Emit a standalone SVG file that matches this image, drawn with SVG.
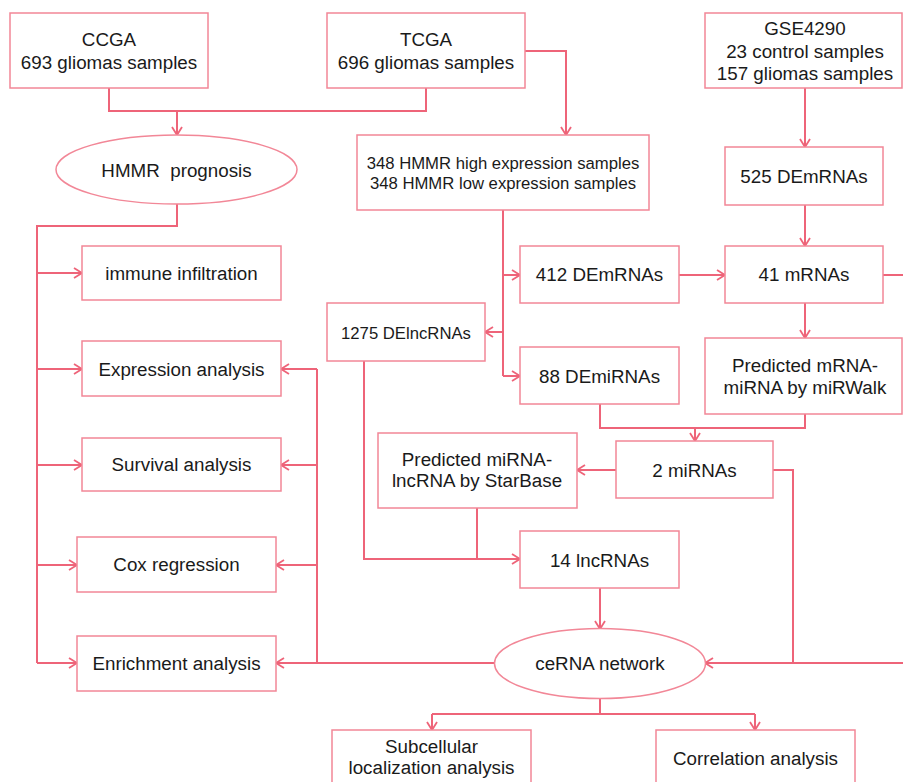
<svg xmlns="http://www.w3.org/2000/svg" width="903" height="782" viewBox="0 0 903 782">
<defs>
<style>
.box{fill:#fff;stroke:#F28797;stroke-width:1.5}
.t{font-family:"Liberation Sans",Arial,sans-serif;font-size:18.8px;fill:#1a1a1a;text-anchor:middle}
.s{font-size:16.7px}
.c{fill:none;stroke:#EE6479;stroke-width:2}
.a{marker-end:url(#arr)}
</style>
<marker id="arr" markerUnits="userSpaceOnUse" markerWidth="12" markerHeight="12" viewBox="0 0 12 12" refX="9" refY="6" orient="auto">
<path d="M1,1 L9,6 L1,11" fill="none" stroke="#EE6479" stroke-width="1.8"/>
</marker>
</defs>
<rect width="903" height="782" fill="#fff"/>
<g id="connectors">
<path class="c" d="M109,88 V111 H426 V88"/>
<path class="c a" d="M177,111 V135"/>
<path class="c a" d="M525,51 H566 V135"/>
<path class="c" d="M177,204 V226 H37 V663"/>
<path class="c a" d="M37,273 H82"/>
<path class="c a" d="M37,369 H82"/>
<path class="c a" d="M37,465 H82"/>
<path class="c a" d="M37,565 H77"/>
<path class="c a" d="M37,663 H77"/>
<path class="c a" d="M805,88 V147"/>
<path class="c a" d="M805,205 V246"/>
<path class="c" d="M883,275 H903"/>
<path class="c a" d="M679,275 H725"/>
<path class="c" d="M503,210 V376"/>
<path class="c a" d="M503,275 H520"/>
<path class="c a" d="M503,332 H485"/>
<path class="c a" d="M503,376 H520"/>
<path class="c a" d="M805,303 V338"/>
<path class="c" d="M600,404 V428 H805 V414"/>
<path class="c a" d="M695,428 V441"/>
<path class="c a" d="M616,470 H577"/>
<path class="c" d="M773,470 H793 V663"/>
<path class="c a" d="M903,663 H705"/>
<path class="c a" d="M364,361 V559 H520"/>
<path class="c" d="M477,508 V559"/>
<path class="c a" d="M600,588 V629"/>
<path class="c a" d="M494,663 H276"/>
<path class="c" d="M317,663 V369"/>
<path class="c a" d="M317,369 H281"/>
<path class="c a" d="M317,465 H281"/>
<path class="c a" d="M317,565 H276"/>
<path class="c" d="M600,698 V714"/>
<path class="c" d="M432,714 H755"/>
<path class="c a" d="M432,714 V730"/>
<path class="c a" d="M755,714 V730"/>
</g>
<g id="ccga"><rect class="box" x="10" y="13" width="198" height="75"/><text class="t" x="109" y="46">CCGA</text><text class="t" x="109" y="69">693 gliomas samples</text></g>
<g id="tcga"><rect class="box" x="327" y="13" width="198" height="75"/><text class="t" x="426" y="46">TCGA</text><text class="t" x="426" y="69">696 gliomas samples</text></g>
<g id="gse"><rect class="box" x="705" y="13" width="197" height="75"/><text class="t" x="805" y="35">GSE4290</text><text class="t" x="805" y="57.5">23 control samples</text><text class="t" x="805" y="80">157 gliomas samples</text></g>
<g id="hmmr"><ellipse class="box" cx="176.5" cy="169.5" rx="120.5" ry="34.5"/><text class="t" x="176.5" y="176.5" xml:space="preserve">HMMR  prognosis</text></g>
<g id="split"><rect class="box" x="357" y="135" width="292" height="75"/><text class="t s" x="503" y="168.5">348 HMMR high expression samples</text><text class="t s" x="503" y="188.5">348 HMMR low expression samples</text></g>
<g id="de525"><rect class="box" x="725" y="147" width="158" height="58"/><text class="t" x="804" y="182.5">525 DEmRNAs</text></g>
<g id="immune"><rect class="box" x="82" y="246" width="199" height="54"/><text class="t" x="181.5" y="280">immune infiltration</text></g>
<g id="expr"><rect class="box" x="82" y="341" width="199" height="55"/><text class="t" x="181.5" y="375.5">Expression analysis</text></g>
<g id="surv"><rect class="box" x="82" y="438" width="199" height="53"/><text class="t" x="181.5" y="470.7">Survival analysis</text></g>
<g id="cox"><rect class="box" x="77" y="537" width="199" height="55"/><text class="t" x="176.5" y="571">Cox regression</text></g>
<g id="enrich"><rect class="box" x="77" y="636" width="199" height="55"/><text class="t" x="176.5" y="670">Enrichment analysis</text></g>
<g id="de412"><rect class="box" x="520" y="246" width="159" height="57"/><text class="t" x="599.5" y="281.3">412 DEmRNAs</text></g>
<g id="m41"><rect class="box" x="725" y="246" width="158" height="57"/><text class="t" x="804" y="281.3">41 mRNAs</text></g>
<g id="lnc1275"><rect class="box" x="327" y="303" width="158" height="58"/><text class="t s" x="406" y="338.5">1275 DElncRNAs</text></g>
<g id="mi88"><rect class="box" x="520" y="347" width="159" height="57"/><text class="t" x="599.5" y="382.7">88 DEmiRNAs</text></g>
<g id="mirwalk"><rect class="box" x="705" y="338" width="197" height="76"/><text class="t" x="805" y="371.7">Predicted mRNA-</text><text class="t" x="805" y="394">miRNA by miRWalk</text></g>
<g id="mi2"><rect class="box" x="616" y="441" width="157" height="57"/><text class="t" x="694.5" y="476.7">2 miRNAs</text></g>
<g id="starbase"><rect class="box" x="378" y="433" width="199" height="75"/><text class="t" x="477" y="465.7">Predicted miRNA-</text><text class="t" x="477" y="487.3">lncRNA by StarBase</text></g>
<g id="lnc14"><rect class="box" x="520" y="531" width="159" height="57"/><text class="t" x="599.5" y="566.7">14 lncRNAs</text></g>
<g id="cerna"><ellipse class="box" cx="600" cy="663.5" rx="105.5" ry="35"/><text class="t" x="600" y="670">ceRNA network</text></g>
<g id="subcell"><rect class="box" x="332" y="730" width="199" height="60"/><text class="t" x="431.5" y="753.3">Subcellular</text><text class="t" x="431.5" y="774.3">localization analysis</text></g>
<g id="corr"><rect class="box" x="656" y="730" width="199" height="60"/><text class="t" x="755.5" y="765">Correlation analysis</text></g>
</svg>
